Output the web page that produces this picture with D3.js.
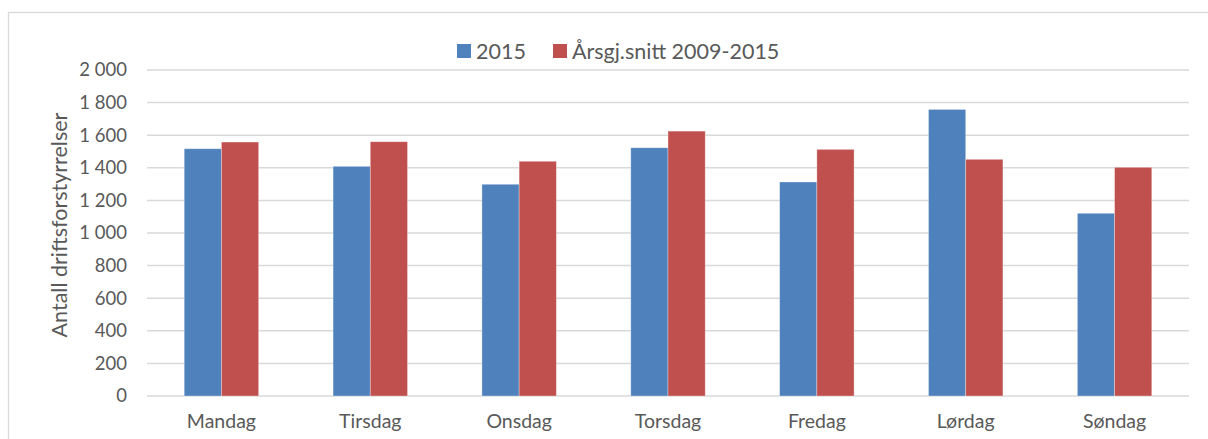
<!DOCTYPE html>
<html>
<head>
<meta charset="utf-8">
<script src="https://cdn.jsdelivr.net/npm/d3@7"></script>
<style>
  body { margin: 0; background: #fff; }
  text { font-family: Lato, "Open Sans", sans-serif; fill: #595959; }
</style>
</head>
<body>
<div id="chart"></div>
<script>
// values
const days = ["Mandag", "Tirsdag", "Onsdag", "Torsdag", "Fredag", "Lørdag", "Søndag"]
const year2015 = [1517, 1409, 1299, 1523, 1313, 1758, 1121]
const avg0915 = [1558, 1560, 1440, 1625, 1513, 1452, 1403]
const seriesNames = ["2015", "Årsgj.snitt 2009-2015"]
const colors = ["#4f81bd", "#c0504d"]
const yTicks = [0, 200, 400, 600, 800, 1000, 1200, 1400, 1600, 1800, 2000]

const W = 1208, H = 439
const margin = { top: 70, right: 19, bottom: 43, left: 147 }
const width = W - margin.left - margin.right
const height = H - margin.top - margin.bottom

const svg = d3.select("#chart").append("svg")
  .attr("width", W).attr("height", H)

// outer frame of the chart area
svg.append("rect")
  .attr("x", 8.5).attr("y", 12.5)
  .attr("width", W + 20).attr("height", H + 20)
  .attr("fill", "none").attr("stroke", "#d9d9d9").attr("stroke-width", 1.3)

const g = svg.append("g").attr("transform", "translate(" + margin.left + "," + margin.top + ")")

const x = d3.scaleBand().domain(days).range([0, width]).paddingInner(0.5).paddingOuter(0.25)
const xs = d3.scaleBand().domain(seriesNames).range([0, x.bandwidth()])
const y = d3.scaleLinear().domain([0, 2000]).range([height, 0])

// gridlines
g.selectAll(".grid").data(yTicks).join("line")
  .attr("x1", 0).attr("x2", width)
  .attr("y1", d => y(d)).attr("y2", d => y(d))
  .attr("stroke", "#d9d9d9").attr("stroke-width", 1.5)

const fmt = d => d3.format(",")(d).replace(",", " ")
const yAxis = g.append("g").call(d3.axisLeft(y).tickValues(yTicks).tickFormat(fmt).tickSize(0).tickPadding(20))
yAxis.select(".domain").remove()
yAxis.selectAll("text").attr("font-size", 18.5).attr("fill", "#595959").attr("font-family", "Lato")

const table = days.map((d, i) => ({ day: d, vals: [year2015[i], avg0915[i]] }))

const groups = g.selectAll(".day").data(table).join("g")
  .attr("transform", d => "translate(" + x(d.day) + ",0)")
groups.selectAll("rect").data(d => d.vals.map((v, j) => ({ name: seriesNames[j], v: v, c: colors[j] })))
  .join("rect")
  .attr("x", d => xs(d.name))
  .attr("width", xs.bandwidth())
  .attr("y", d => y(d.v))
  .attr("height", d => height - y(d.v))
  .attr("fill", d => d.c)
  .attr("stroke", "#ffffff").attr("stroke-opacity", 0.4).attr("stroke-width", 0.8)

const xAxis = g.append("g").attr("transform", "translate(0," + height + ")")
  .call(d3.axisBottom(x).tickSize(0).tickPadding(18))
xAxis.select(".domain").remove()
xAxis.selectAll("text").attr("font-size", 19.5).attr("fill", "#595959").attr("font-family", "Lato")

// y axis title
svg.append("text")
  .attr("transform", "translate(67," + (margin.top + height / 2 - 8) + ") rotate(-90)")
  .attr("text-anchor", "middle")
  .attr("font-size", 21.5)
  .text("Antall driftsforstyrrelser")

// legend
const legend = svg.append("g")
const legX = [457, 553]
seriesNames.forEach((n, i) => {
  legend.append("rect").attr("x", legX[i]).attr("y", 44).attr("width", 14).attr("height", 14).attr("fill", colors[i])
  legend.append("text").attr("x", legX[i] + 19).attr("y", 58.5).attr("font-size", 21.5).text(n)
})
</script>
</body>
</html>
